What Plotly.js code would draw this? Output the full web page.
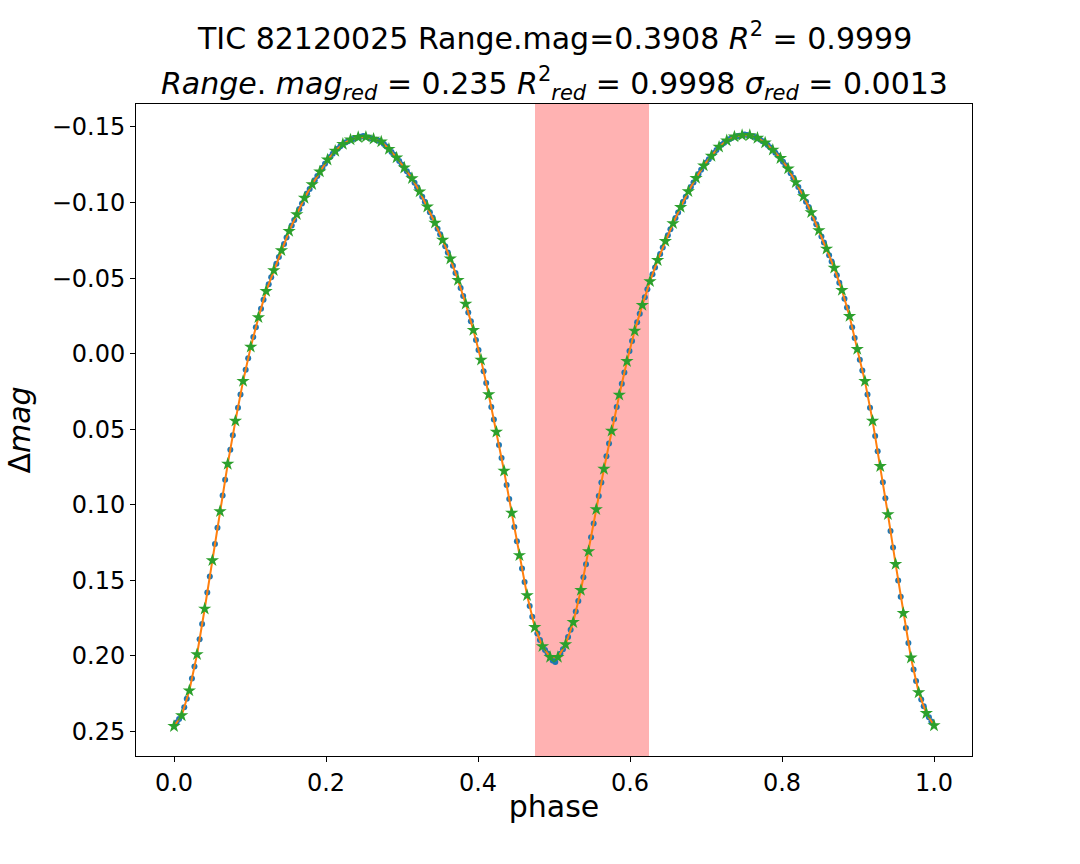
<!DOCTYPE html>
<html>
<head>
<meta charset="utf-8">
<script src="https://cdn.plot.ly/plotly-3.0.1.min.js"></script>
<style>
  body { margin: 0; background: #fff; }
  #plot { width: 1080px; height: 864px; }
</style>
</head>
<body>
<div id="plot"></div>
<script>
// phase-folded light curve, TIC 82120025

// binned points (green stars) and fit (orange line) at the same phases
const starPhase = [0.0000,0.0101,0.0202,0.0303,0.0404,0.0505,0.0606,0.0707,0.0808,0.0909,
  0.1010,0.1111,0.1212,0.1313,0.1414,0.1515,0.1616,0.1717,0.1818,0.1919,
  0.2020,0.2121,0.2222,0.2323,0.2424,0.2525,0.2626,0.2727,0.2828,0.2929,
  0.3030,0.3131,0.3232,0.3333,0.3434,0.3535,0.3636,0.3737,0.3838,0.3939,
  0.4040,0.4141,0.4242,0.4343,0.4444,0.4545,0.4646,0.4747,0.4848,0.4949,
  0.5051,0.5152,0.5253,0.5354,0.5455,0.5556,0.5657,0.5758,0.5859,0.5960,
  0.6061,0.6162,0.6263,0.6364,0.6465,0.6566,0.6667,0.6768,0.6869,0.6970,
  0.7071,0.7172,0.7273,0.7374,0.7475,0.7576,0.7677,0.7778,0.7879,0.7980,
  0.8081,0.8182,0.8283,0.8384,0.8485,0.8586,0.8687,0.8788,0.8889,0.8990,
  0.9091,0.9192,0.9293,0.9394,0.9495,0.9596,0.9697,0.9798,0.9899,1.0000];

const starMag = [0.2465,0.2394,0.2229,0.1990,0.1688,0.1368,0.1043,0.0730,0.0445,0.0182,
  -0.0045,-0.0240,-0.0414,-0.0551,-0.0683,-0.0811,-0.0922,-0.1030,-0.1120,-0.1204,
  -0.1283,-0.1341,-0.1387,-0.1416,-0.1432,-0.1434,-0.1421,-0.1403,-0.1354,-0.1297,
  -0.1230,-0.1160,-0.1072,-0.0972,-0.0865,-0.0752,-0.0628,-0.0487,-0.0330,-0.0156,
  0.0041,0.0270,0.0518,0.0776,0.1054,0.1334,0.1599,0.1810,0.1937,0.2008,
  0.2008,0.1924,0.1777,0.1565,0.1308,0.1030,0.0763,0.0511,0.0273,0.0050,
  -0.0151,-0.0321,-0.0478,-0.0618,-0.0745,-0.0862,-0.0970,-0.1074,-0.1162,-0.1244,
  -0.1308,-0.1368,-0.1410,-0.1436,-0.1445,-0.1445,-0.1427,-0.1396,-0.1348,-0.1293,
  -0.1224,-0.1134,-0.1041,-0.0935,-0.0816,-0.0694,-0.0568,-0.0421,-0.0248,-0.0030,
  0.0182,0.0445,0.0745,0.1063,0.1392,0.1717,0.2012,0.2242,0.2379,0.2460];

// raw photometry (blue dots)
const dotPhase = [0.0034,0.0067,0.0135,0.0168,0.0236,0.0269,0.0337,0.0370,0.0438,0.0471,
  0.0539,0.0572,0.0640,0.0673,0.0741,0.0774,0.0842,0.0875,0.0943,0.0976,
  0.1044,0.1077,0.1145,0.1178,0.1246,0.1279,0.1347,0.1380,0.1448,0.1481,
  0.1549,0.1582,0.1650,0.1684,0.1751,0.1785,0.1852,0.1886,0.1953,0.1987,
  0.2054,0.2088,0.2155,0.2189,0.2256,0.2290,0.2357,0.2391,0.2458,0.2492,
  0.2559,0.2593,0.2660,0.2694,0.2761,0.2795,0.2862,0.2896,0.2963,0.2997,
  0.3064,0.3098,0.3165,0.3199,0.3266,0.3300,0.3367,0.3401,0.3468,0.3502,
  0.3569,0.3603,0.3670,0.3704,0.3771,0.3805,0.3872,0.3906,0.3973,0.4007,
  0.4074,0.4108,0.4175,0.4209,0.4276,0.4310,0.4377,0.4411,0.4478,0.4512,
  0.4579,0.4613,0.4680,0.4714,0.4781,0.4815,0.4882,0.4916,0.4983,0.5017,
  0.5084,0.5118,0.5185,0.5219,0.5286,0.5320,0.5387,0.5421,0.5488,0.5522,
  0.5589,0.5623,0.5690,0.5724,0.5791,0.5825,0.5892,0.5926,0.5993,0.6027,
  0.6094,0.6128,0.6195,0.6229,0.6296,0.6330,0.6397,0.6431,0.6498,0.6532,
  0.6599,0.6633,0.6700,0.6734,0.6801,0.6835,0.6902,0.6936,0.7003,0.7037,
  0.7104,0.7138,0.7205,0.7239,0.7306,0.7340,0.7407,0.7441,0.7508,0.7542,
  0.7609,0.7643,0.7710,0.7744,0.7811,0.7845,0.7912,0.7946,0.8013,0.8047,
  0.8114,0.8148,0.8215,0.8249,0.8316,0.8350,0.8418,0.8451,0.8519,0.8552,
  0.8620,0.8653,0.8721,0.8754,0.8822,0.8855,0.8923,0.8956,0.9024,0.9057,
  0.9125,0.9158,0.9226,0.9259,0.9327,0.9360,0.9428,0.9461,0.9529,0.9562,
  0.9630,0.9663,0.9731,0.9764,0.9832,0.9865,0.9933,0.9966];

const dotMag = [0.2441,0.2418,0.2339,0.2284,0.2149,0.2070,0.1889,0.1789,0.1581,0.1475,
  0.1260,0.1151,0.0939,0.0834,0.0635,0.0540,0.0357,0.0270,0.0106,0.0031,
  -0.0110,-0.0175,-0.0298,-0.0356,-0.0460,-0.0505,-0.0595,-0.0639,-0.0726,-0.0768,
  -0.0848,-0.0885,-0.0958,-0.0994,-0.1060,-0.1090,-0.1148,-0.1176,-0.1230,-0.1257,
  -0.1302,-0.1322,-0.1356,-0.1372,-0.1397,-0.1406,-0.1421,-0.1427,-0.1436,-0.1440,
  -0.1430,-0.1425,-0.1415,-0.1409,-0.1387,-0.1370,-0.1335,-0.1316,-0.1275,-0.1252,
  -0.1207,-0.1183,-0.1131,-0.1101,-0.1039,-0.1005,-0.0936,-0.0901,-0.0827,-0.0790,
  -0.0711,-0.0669,-0.0581,-0.0534,-0.0435,-0.0382,-0.0272,-0.0214,-0.0090,-0.0025,
  0.0117,0.0194,0.0353,0.0435,0.0604,0.0690,0.0869,0.0961,0.1147,0.1241,
  0.1422,0.1511,0.1669,0.1740,0.1852,0.1895,0.1961,0.1984,0.2030,0.2040,
  0.1985,0.1955,0.1875,0.1826,0.1706,0.1636,0.1479,0.1394,0.1215,0.1123,
  0.0941,0.0852,0.0679,0.0595,0.0432,0.0352,0.0199,0.0124,-0.0017,-0.0084,
  -0.0208,-0.0264,-0.0373,-0.0426,-0.0525,-0.0571,-0.0660,-0.0703,-0.0784,-0.0823,
  -0.0898,-0.0934,-0.1005,-0.1039,-0.1103,-0.1133,-0.1189,-0.1217,-0.1265,-0.1287,
  -0.1328,-0.1348,-0.1382,-0.1396,-0.1419,-0.1427,-0.1439,-0.1442,-0.1450,-0.1447,
  -0.1439,-0.1433,-0.1417,-0.1406,-0.1380,-0.1364,-0.1330,-0.1311,-0.1270,-0.1247,
  -0.1194,-0.1164,-0.1103,-0.1072,-0.1006,-0.0970,-0.0895,-0.0856,-0.0775,-0.0735,
  -0.0652,-0.0610,-0.0519,-0.0470,-0.0363,-0.0306,-0.0175,-0.0103,0.0041,0.0111,
  0.0270,0.0357,0.0545,0.0645,0.0851,0.0957,0.1173,0.1282,0.1500,0.1609,
  0.1815,0.1914,0.2089,0.2165,0.2288,0.2333,0.2406,0.2433];

// shaded phase window
const spanStart = 0.475;
const spanEnd = 0.625;

const xTicks = [0.0, 0.2, 0.4, 0.6, 0.8, 1.0];
const yTicks = [-0.15, -0.10, -0.05, 0.00, 0.05, 0.10, 0.15, 0.20, 0.25];

const titleLine1 = "TIC 82120025 Range.mag=0.3908 <i>R</i><sup>2</sup> = 0.9999";
const titleLine2 = "<i>Range</i>. <i>mag</i><sub><i>red</i></sub> = 0.235 " +
  "<i>R</i><sup>2</sup><sub><i>red</i></sub> = 0.9998 " +
  "<i>σ</i><sub><i>red</i></sub> = 0.0013";

const FONT = "DejaVu Sans, Liberation Sans, sans-serif";


function draw() {
  const traces = [
    { // data points
      x: dotPhase, y: dotMag,
      mode: "markers",
      marker: { size: 6, color: "#1f77b4" },
      hoverinfo: "skip"
    },
    { // fit
      x: starPhase, y: starMag,
      mode: "lines",
      line: { color: "#ff7f0e", width: 2 },
      hoverinfo: "skip"
    },
    { // binned
      x: starPhase, y: starMag,
      mode: "markers",
      marker: { symbol: "star", size: 10, color: "#2ca02c" },
      hoverinfo: "skip"
    }
  ];

  const axisCommon = {
    showline: true,
    linecolor: "black",
    linewidth: 1,
    mirror: true,
    showgrid: false,
    zeroline: false,
    ticks: "outside",
    ticklen: 5,
    tickwidth: 1,
    tickcolor: "black",
    tickfont: { family: FONT, size: 24, color: "black" },
    tickmode: "array"
  };

  const layout = {
    width: 1080,
    height: 864,
    showlegend: false,
    paper_bgcolor: "white",
    plot_bgcolor: "white",
    margin: { l: 136, r: 108, t: 104, b: 108 },
    font: { family: FONT, color: "black" },

    xaxis: Object.assign({}, axisCommon, {
      range: [-0.05, 1.05],
      tickvals: xTicks,
      ticktext: xTicks.map(v => v.toFixed(1)),
      title: { text: "phase", font: { family: FONT, size: 30 }, standoff: 0 },
      automargin: false
    }),

    yaxis: Object.assign({}, axisCommon, {
      range: [0.2662, -0.1652],   // invertiert wie im Original
      tickvals: yTicks,
      ticktext: yTicks.map(v => (v < 0 ? "\u2212" : "") + Math.abs(v).toFixed(2)),
      title: { text: "Δ<i>mag</i>", font: { family: FONT, size: 30 }, standoff: 12 },
      automargin: false
    }),

    shapes: [{
      type: "rect",
      xref: "x", yref: "paper",
      x0: spanStart, x1: spanEnd, y0: 0, y1: 1,
      fillcolor: "rgba(255,0,0,0.3)",
      line: { width: 0 },
      layer: "below"
    }],

    annotations: [
      {
        text: titleLine1, xref: "paper", yref: "paper",
        x: 0.5, y: 1.1028, xanchor: "center", yanchor: "middle",
        showarrow: false, font: { family: FONT, size: 30, color: "black" }
      },
      {
        text: titleLine2, xref: "paper", yref: "paper",
        x: 0.5, y: 1.031, xanchor: "center", yanchor: "middle",
        showarrow: false, font: { family: FONT, size: 30, color: "black" }
      }
    ]
  };

  Plotly.newPlot("plot", traces, layout, { staticPlot: true });
}

draw();
</script>
</body>
</html>
